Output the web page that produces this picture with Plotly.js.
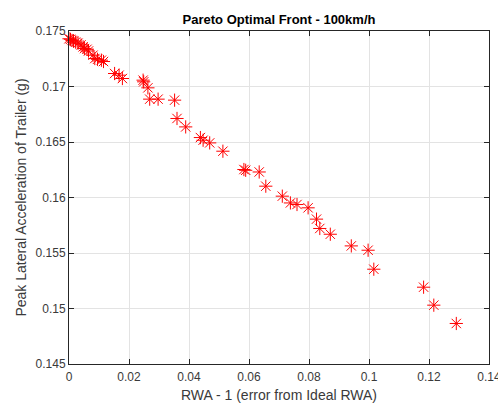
<!DOCTYPE html>
<html>
<head>
<meta charset="utf-8">
<script src="https://cdn.plot.ly/plotly-3.0.1.min.js"></script>
<style>html,body{margin:0;padding:0;background:#fff;}#chart{width:498px;height:406px;}</style>
</head>
<body>
<div id="chart"></div>
<script>
const rwaError = [
  0.0000, 0.0005, 0.0010, 0.0015, 0.0022, 0.0030, 0.0040, 0.0047, 0.0052, 0.0060,
  0.0065, 0.0080, 0.0086, 0.0095, 0.0108, 0.0115,
  0.0152, 0.0167, 0.0178,
  0.0247, 0.0249, 0.0263, 0.0269, 0.0297, 0.0352, 0.0360, 0.0389,
  0.0438, 0.0447, 0.0469, 0.0513, 0.0583, 0.0589, 0.0634, 0.0656,
  0.0711, 0.0738, 0.0760, 0.0797, 0.0825, 0.0836, 0.0871,
  0.0941, 0.0997, 0.1016, 0.1182, 0.1216, 0.1291
];
const peakLatAcc = [
  0.17430, 0.17425, 0.17415, 0.17410, 0.17400, 0.17390, 0.17375, 0.17357, 0.17342, 0.17335,
  0.17320, 0.17282, 0.17252, 0.17245, 0.17237, 0.17225,
  0.17117, 0.17102, 0.17072,
  0.17057, 0.17042, 0.16988, 0.16886, 0.16886, 0.16877, 0.16712, 0.16636,
  0.16540, 0.16516, 0.16492, 0.16417, 0.16252, 0.16245, 0.16230, 0.16102,
  0.16012, 0.15951, 0.15937, 0.15907, 0.15805, 0.15721, 0.15669,
  0.15564, 0.15525, 0.15354, 0.15192, 0.15030, 0.14865
];
const xTicks = [0, 0.02, 0.04, 0.06, 0.08, 0.1, 0.12, 0.14];
const xTickText = ['0', '0.02', '0.04', '0.06', '0.08', '0.1', '0.12', '0.14'];
const yTicks = [0.145, 0.15, 0.155, 0.16, 0.165, 0.17, 0.175];
const yTickText = ['0.145', '0.15', '0.155', '0.16', '0.165', '0.17', '0.175'];

const font = 'Liberation Sans, Arial, sans-serif';
const trace = {
  x: rwaError, y: peakLatAcc, type: 'scatter', mode: 'markers',
  marker: {symbol: 'asterisk-open', size: 11, color: '#ff0000', line: {color: '#ff0000', width: 1}},
  cliponaxis: false, hoverinfo: 'skip'
};
const axisCommon = {
  showline: true, linecolor: '#262626', linewidth: 1, mirror: 'ticks',
  ticks: 'inside', ticklen: 5, tickcolor: '#262626', tickwidth: 1,
  showgrid: true, gridcolor: '#e3e3e3', gridwidth: 1, zeroline: false,
  tickfont: {family: font, size: 12, color: '#3a3a3a'},
  tickmode: 'array', automargin: false, ticklabeloverflow: 'allow'
};
const layout = {
  width: 498, height: 406,
  margin: {l: 69, r: 9, t: 31, b: 42},
  paper_bgcolor: '#ffffff', plot_bgcolor: '#ffffff',
  showlegend: false,
  title: {text: '<b>Pareto Optimal Front - 100km/h</b>', x: 0.5, xref: 'paper', y: 1 - 19/406, yref: 'container', yanchor: 'middle',
    font: {family: font, size: 13, color: '#000000'}},
  xaxis: Object.assign({}, axisCommon, {
    range: [0, 0.14], tickvals: xTicks, ticktext: xTickText, ticklabelstandoff: 2,
    title: {text: 'RWA - 1 (error from Ideal RWA)', standoff: 6, font: {family: font, size: 14, color: '#3a3a3a'}}
  }),
  yaxis: Object.assign({}, axisCommon, {
    range: [0.145, 0.175], tickvals: yTicks, ticktext: yTickText,
    title: {text: 'Peak Lateral Acceleration of Trailer (g)', standoff: 5, font: {family: font, size: 14, color: '#3a3a3a'}}
  })
};
Plotly.newPlot('chart', [trace], layout, {displayModeBar: false, staticPlot: true});
</script>
</body>
</html>
